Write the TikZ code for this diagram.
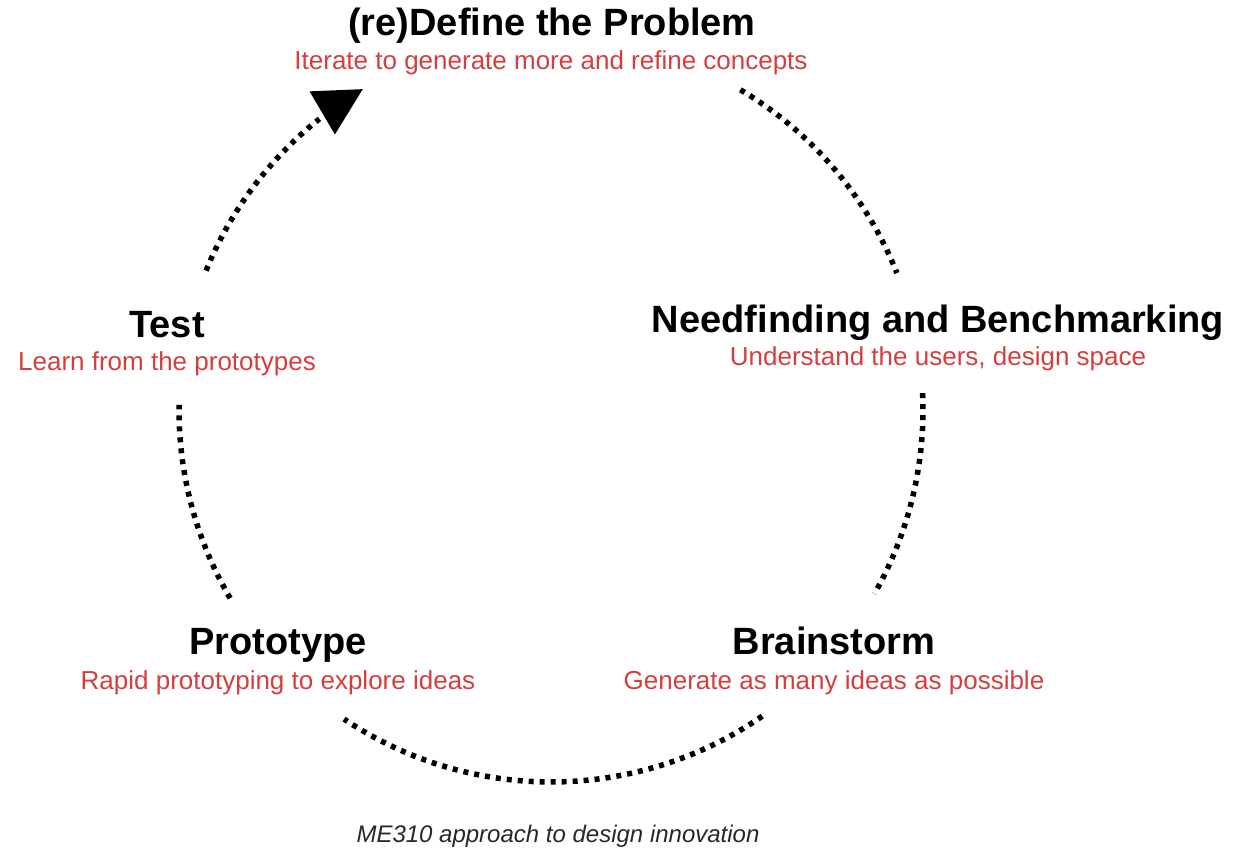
\documentclass[tikz,border=0pt]{standalone}
\usepackage{fontspec}
\setmainfont{Liberation Sans}
\usetikzlibrary{calc}
\definecolor{subred}{RGB}{214,62,62}
\definecolor{capgray}{RGB}{40,40,40}
\begin{document}
\begin{tikzpicture}[x=1pt,y=1pt,
  title/.style={anchor=base,inner sep=0pt,font=\fontsize{38}{40}\selectfont\bfseries,text=black},
  subtitle/.style={anchor=base,inner sep=0pt,font=\fontsize{26}{28}\selectfont,text=subred},
  dotline/.style={line width=5.5pt,dash pattern=on 5pt off 6pt,line cap=butt,black}]
\useasboundingbox (0,0) rectangle (1233,850);
\fill[white] (0,0) rectangle (1233,850);
\coordinate (ctr) at (551,440);
% labels
\node[title] (define) at (552,814) {(re)Define the Problem};
\node[subtitle] (defsub) at (551,780) {Iterate to generate more and refine concepts};
\node[title] (need) at (938,517) {Needfinding and Benchmarking};
\node[subtitle] (needsub) at (938,484) {Understand the users, design space};
\node[title] (test) at (167,512) {Test};
\node[subtitle] (testsub) at (167,479) {Learn from the prototypes};
\node[title] (proto) at (278,195) {Prototype};
\node[subtitle] (protosub) at (278,160) {Rapid prototyping to explore ideas};
\node[title] (brain) at (834,195) {Brainstorm};
\node[subtitle] (brainsub) at (834,160) {Generate as many ideas as possible};
\node[anchor=base,inner sep=0pt,font=\fontsize{24}{26}\selectfont\itshape,text=capgray] (caption) at (558,7) {ME310 approach to design innovation};
% arc end points
\coordinate (a1) at ($(ctr)+(158:372pt)$);
\coordinate (a2) at ($(ctr)+(59.4:372pt)$);
\coordinate (a3) at ($(ctr)+(2.6:372pt)$);
\coordinate (a4) at ($(ctr)+(-55.4:372pt)$);
\coordinate (a5) at ($(ctr)+(210.4:372pt)$);
\coordinate (tip) at ($(ctr)+(120.4:372pt)$);
% dotted arcs
\draw[dotline] (a1) arc[start angle=158,end angle=128.5,radius=372pt];
\draw[dotline] (a2) arc[start angle=59.4,end angle=21.6,radius=372pt];
\draw[dotline] (a3) arc[start angle=2.6,end angle=-29.6,radius=372pt];
\draw[dotline] (a4) arc[start angle=-55.4,end angle=-123.8,radius=372pt];
\draw[dotline] (a5) arc[start angle=210.4,end angle=179.2,radius=372pt];
% arrowhead
\fill[black] (tip) -- ($(tip)+(210.4:47pt)+(120.4:25pt)$) -- ($(tip)+(210.4:47pt)+(300.4:25pt)$) -- cycle;
\end{tikzpicture}
\end{document}
